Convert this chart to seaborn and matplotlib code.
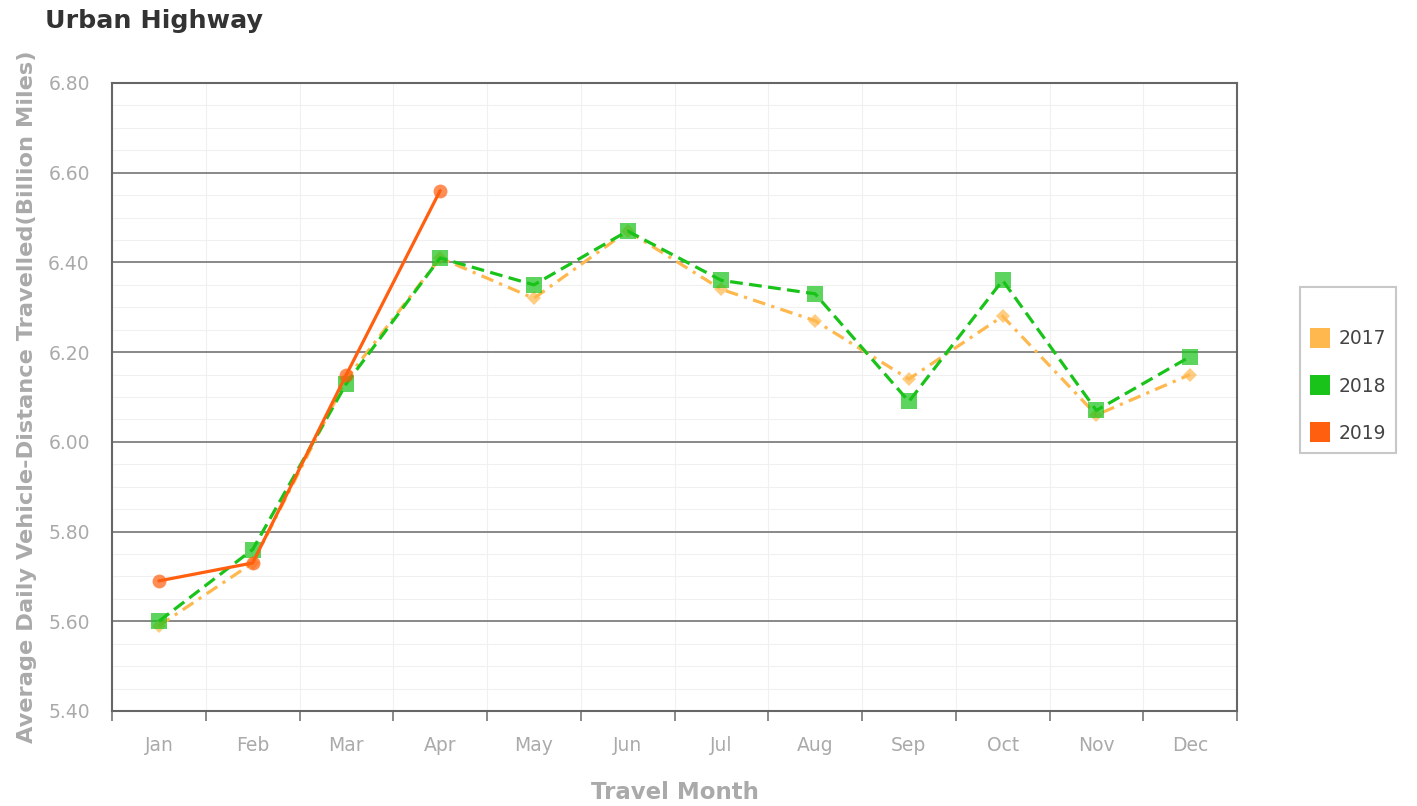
import matplotlib
matplotlib.use('Agg')
import matplotlib.pyplot as plt
from matplotlib.lines import Line2D
from matplotlib.colors import to_rgba
from matplotlib.ticker import MultipleLocator, FixedLocator, NullFormatter
import pandas as pd
import seaborn as sns

# Data
months = ['Jan', 'Feb', 'Mar', 'Apr', 'May', 'Jun', 'Jul', 'Aug', 'Sep', 'Oct', 'Nov', 'Dec']
vals_2017 = [5.59, 5.73, 6.14, 6.41, 6.32, 6.47, 6.34, 6.27, 6.14, 6.28, 6.06, 6.15]
vals_2018 = [5.60, 5.76, 6.13, 6.41, 6.35, 6.47, 6.36, 6.33, 6.09, 6.36, 6.07, 6.19]
vals_2019 = [5.69, 5.73, 6.15, 6.56]
years = ['2017', '2018', '2019']

colors = {'2017': '#FFB84D', '2018': '#19C319', '2019': '#FF5F0F'}
marker_map = {'2017': 'D', '2018': 's', '2019': 'o'}
dash_map = {'2017': (4, 2, 1, 2), '2018': (4, 2), '2019': ''}
msize = {'2017': 7, '2018': 11, '2019': 10}

rows = []
for yr, vals in zip(years, [vals_2017, vals_2018, vals_2019]):
    for m, v in zip(months, vals):
        rows.append({'month': m, 'value': v, 'year': yr})
df = pd.DataFrame(rows)
df['x'] = df['month'].map({m: i for i, m in enumerate(months)})

sns.set_style('white')
plt.rcParams['font.family'] = ['DejaVu Sans']

fig = plt.figure(figsize=(14.17, 8.06), dpi=100)
ax = fig.add_axes([112 / 1417, 1 - 711 / 806, 1125 / 1417, 628 / 806])

sns.lineplot(data=df, x='x', y='value', hue='year', style='year',
             palette=colors, markers=marker_map, dashes=dash_map,
             linewidth=2.3, markersize=9, markeredgewidth=0,
             legend=False, ax=ax, zorder=3)

# marker size / transparency per series
for line, yr in zip(ax.lines, years):
    line.set_markersize(msize[yr])
    line.set_markerfacecolor(to_rgba(colors[yr], 0.7))
    line.set_markeredgecolor(to_rgba(colors[yr], 0.0))

ax.set_xlim(-0.5, 11.5)
ax.set_ylim(5.40, 6.80)

# y axis
ax.yaxis.set_major_locator(MultipleLocator(0.2))
ax.yaxis.set_minor_locator(MultipleLocator(0.05))
ax.set_yticklabels([f'{t:.2f}' for t in ax.get_yticks()])
ax.tick_params(axis='y', which='both', length=0, labelsize=13.5, labelcolor='#aaaaaa', pad=16)

# x axis: tick marks at band edges, labels at centers
ax.xaxis.set_major_locator(FixedLocator([i - 0.5 for i in range(13)]))
ax.xaxis.set_major_formatter(NullFormatter())
ax.xaxis.set_minor_locator(FixedLocator(list(range(12))))
ax.set_xticklabels(months, minor=True)
ax.tick_params(axis='x', which='major', length=7, width=1.2, color='#777777', bottom=True)
ax.tick_params(axis='x', which='minor', length=0, labelsize=13.5, labelcolor='#aaaaaa', pad=18, bottom=True)

ax.grid(axis='y', which='major', color='#888888', linewidth=1.4)
ax.grid(axis='y', which='minor', color='#f0f0f0', linewidth=0.8)
ax.grid(axis='x', which='major', color='#f0f0f0', linewidth=0.8)
ax.set_axisbelow(True)

for s in ax.spines.values():
    s.set_visible(True)
    s.set_color('#666666')
    s.set_linewidth(1.5)

ax.set_xlabel('Travel Month', fontsize=16.5, fontweight='bold', color='#aaaaaa', labelpad=19)
ax.set_ylabel('Average Daily Vehicle-Distance Travelled(Billion Miles)', fontsize=16.2,
              fontweight='bold', color='#aaaaaa', labelpad=8)

fig.text(45 / 1417, 1 - 21 / 806, 'Urban Highway', fontsize=18.3, fontweight='bold',
         color='#333333', ha='left', va='center')

handles = [Line2D([0], [0], marker='s', linestyle='', markersize=15,
                  markerfacecolor=colors[y], markeredgewidth=0) for y in years]
leg = fig.legend(handles, years, loc='upper left', bbox_to_anchor=(1300 / 1417, 1 - 287 / 806),
                 fontsize=13.5, frameon=True, fancybox=False, borderpad=0.55, labelspacing=1.5,
                 handlelength=1.0, handletextpad=0.5, borderaxespad=0,
                 title=' ', title_fontsize=2)
leg.get_frame().set_edgecolor('#bbbbbb')
leg.get_frame().set_linewidth(1.5)
for t in leg.get_texts():
    t.set_color('#444444')

fig.savefig('out.png', dpi=100)
